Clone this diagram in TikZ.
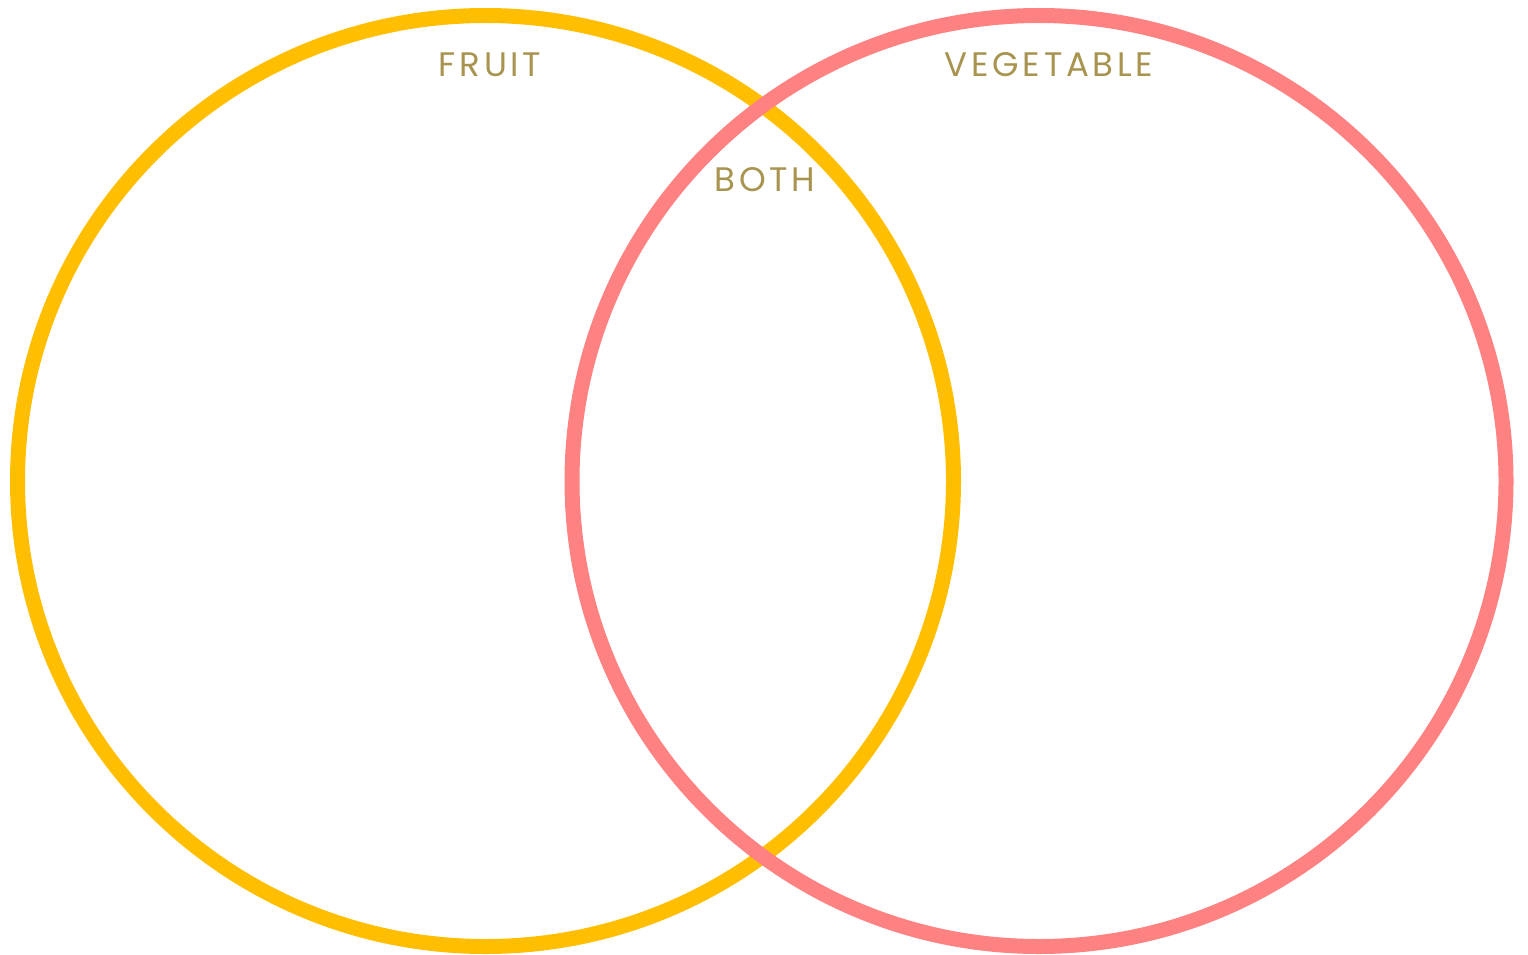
\documentclass[tikz,border=0pt]{standalone}
\usepackage{fontspec}
\setmainfont{Poppins}
\newfontfamily\labelfont[LetterSpace=11]{Poppins}
\definecolor{fruitcol}{HTML}{FFBF00}
\definecolor{vegcol}{HTML}{FF8282}
\definecolor{labelcol}{HTML}{A8944E}
\begin{document}
\begin{tikzpicture}[x=1pt,y=-1pt,
  ring/.style={line width=15pt},
  lbl/.style={text=labelcol,font=\labelfont\fontsize{34}{40}\selectfont,inner sep=0pt,anchor=center}]
\useasboundingbox[fill=white] (0,0) rectangle (1528,955);
\coordinate (cf) at (485.5,481);
\coordinate (cv) at (1039,481);
\draw[ring,fruitcol] (cf) ellipse [x radius=468,y radius=465.5];
\draw[ring,vegcol] (cv) ellipse [x radius=467,y radius=465.5];
\node[lbl] (fruit) at (490,65) {FRUIT};
\node[lbl] (veg) at (1049,65) {VEGETABLE};
\node[lbl] (both) at (765,180) {BOTH};
\end{tikzpicture}
\end{document}
